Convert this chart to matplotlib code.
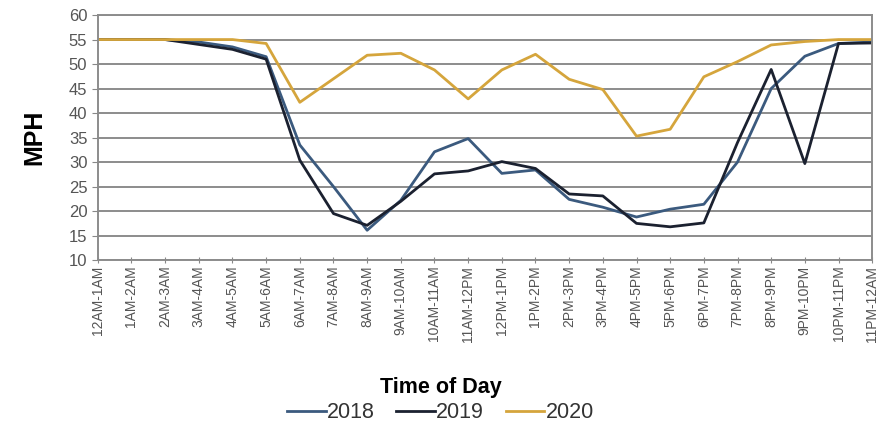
import numpy as np
import matplotlib.pyplot as plt

plt.rcParams['font.family'] = ['Liberation Sans', 'DejaVu Sans']

hours = ["12AM-1AM", "1AM-2AM", "2AM-3AM", "3AM-4AM", "4AM-5AM", "5AM-6AM",
         "6AM-7AM", "7AM-8AM", "8AM-9AM", "9AM-10AM", "10AM-11AM", "11AM-12PM",
         "12PM-1PM", "1PM-2PM", "2PM-3PM", "3PM-4PM", "4PM-5PM", "5PM-6PM",
         "6PM-7PM", "7PM-8PM", "8PM-9PM", "9PM-10PM", "10PM-11PM", "11PM-12AM"]

mph_2018 = [55, 55, 55, 54.5, 53.5, 51.5, 33.5, 25, 16.1, 22.2, 32.1, 34.8,
            27.7, 28.4, 22.4, 20.8, 18.8, 20.4, 21.4, 30, 45, 51.6, 54.2, 54.5]
mph_2019 = [55, 55, 55, 54, 53, 51, 30.4, 19.5, 17.1, 22, 27.6, 28.2,
            30.1, 28.7, 23.5, 23.1, 17.5, 16.8, 17.6, 34, 48.9, 29.7, 54.2, 54.3]
mph_2020 = [55, 55, 55, 55, 55, 54.2, 42.2, 47, 51.8, 52.2, 48.8, 42.9,
            48.8, 52, 46.9, 44.8, 35.3, 36.7, 47.4, 50.5, 53.9, 54.6, 55, 55]

fig = plt.figure(figsize=(8.81, 4.30), dpi=100)
ax = fig.add_axes([0.111, 0.395, 0.879, 0.570])

x = np.arange(len(hours))
ax.plot(x, mph_2018, color="#3b5a7e", lw=2.0, label="2018")
ax.plot(x, mph_2019, color="#1b2130", lw=2.0, label="2019")
ax.plot(x, mph_2020, color="#d5a53c", lw=2.0, label="2020")

ax.set_xlim(0, len(hours) - 1)
ax.set_ylim(10, 60)
ax.set_yticks(range(10, 61, 5))
ax.set_xticks(x)
ax.set_xticklabels(hours, rotation=90, fontsize=10, color="#555555")
ax.tick_params(axis="y", labelsize=12, labelcolor="#555555", color="#888888", length=4)
ax.tick_params(axis="x", color="#888888", length=4, direction="inout", pad=2)
ax.grid(axis="y", color="#8c8c8c", lw=1.4)
ax.set_axisbelow(True)
for s in ax.spines.values():
    s.set_color("#8c8c8c")
    s.set_linewidth(1.4)

ax.set_ylabel("MPH", fontsize=18, fontweight="bold", labelpad=16)
fig.text(0.5, 0.1, "Time of Day", ha="center", va="center", fontsize=15.5, fontweight="bold")
fig.legend(loc="center", bbox_to_anchor=(0.5, 0.04), ncol=3, frameon=False,
           fontsize=15.5, handlelength=1.8, handletextpad=0.05, columnspacing=1.0,
           labelcolor="#333333")

fig.savefig("out.png", dpi=100)
